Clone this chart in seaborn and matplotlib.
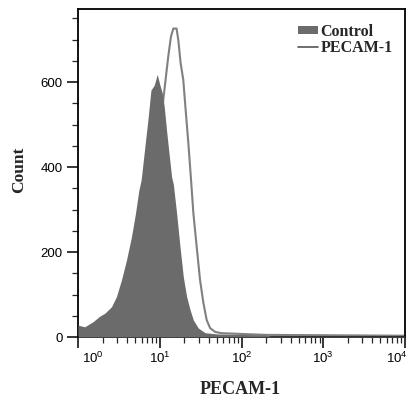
import numpy as np
import pandas as pd
import matplotlib
matplotlib.use("Agg")
import matplotlib.pyplot as plt
import seaborn as sns
from matplotlib.ticker import LogLocator, MultipleLocator, FixedLocator
from matplotlib.patches import Patch
from matplotlib.lines import Line2D
from matplotlib.transforms import ScaledTranslation

# ---- data (log10 of fluorescence, counts) ----
control_log = [0.000, 0.082, 0.184, 0.266, 0.328, 0.409, 0.470, 0.531, 0.593, 0.654,
               0.703, 0.745, 0.772, 0.818, 0.859, 0.892, 0.933, 0.969, 1.002, 1.031,
               1.055, 1.083, 1.113, 1.145, 1.166, 1.206, 1.248, 1.288, 1.329, 1.371,
               1.411, 1.472, 1.555, 1.718, 2.29, 2.36, 4.0]
control_cnt = [28, 24, 36, 49, 56, 71, 95, 134, 181, 236,
               291, 346, 369, 448, 518, 581, 593, 618, 593, 574,
               542, 487, 433, 377, 360, 292, 212, 142, 95, 64,
               40, 21, 10, 7, 5, 2, 2]

pecam_log = [0.0, 0.3, 0.5, 0.7, 0.85, 0.95, 1.0, 1.043, 1.071, 1.104, 1.137, 1.166,
             1.206, 1.227, 1.255, 1.288, 1.317, 1.350, 1.383, 1.411, 1.452, 1.493,
             1.534, 1.574, 1.616, 1.677, 1.755, 2.29, 4.0]
pecam_cnt = [10, 15, 30, 80, 220, 380, 470, 558, 605, 660, 707, 726,
             726, 699, 645, 605, 534, 456, 369, 292, 212, 134,
             80, 40, 21, 12, 9, 5, 3]

series_names = ["Control", "PECAM-1"]
y_ticks = [0, 200, 400, 600]
x_ticks = [1, 10, 100, 1000, 10000]

ctrl = pd.DataFrame({"x": 10 ** np.array(control_log), "count": control_cnt})
pec = pd.DataFrame({"x": 10 ** np.array(pecam_log), "count": pecam_cnt})

sns.set_style("ticks")
plt.rcParams["font.family"] = ["Liberation Sans", "DejaVu Sans"]
plt.rcParams["mathtext.fontset"] = "custom"
plt.rcParams["mathtext.rm"] = "Liberation Sans"
plt.rcParams["mathtext.it"] = "Liberation Sans"

fig = plt.figure(figsize=(4.08, 3.99), dpi=100)
ax = fig.add_axes([78 / 408, 1 - 337 / 399, (405 - 78) / 408, (337 - 9) / 399])

sns.lineplot(data=pec, x="x", y="count", ax=ax, color="#808080", lw=1.5, zorder=2)
ax.fill_between(ctrl["x"], 0, ctrl["count"], color="#6b6b6b", lw=0, zorder=3)

ax.set_xscale("log")
ax.set_xlim(1, 1e4)
ax.set_ylim(0, 772)

for s in ax.spines.values():
    s.set_color("black")
    s.set_linewidth(1.3)

ax.yaxis.set_major_locator(FixedLocator(y_ticks))
ax.yaxis.set_minor_locator(MultipleLocator(50))
ax.xaxis.set_major_locator(FixedLocator(x_ticks))
ax.xaxis.set_minor_locator(LogLocator(base=10, subs=np.arange(2, 10), numticks=20))
ax.tick_params(axis="both", which="major", length=8, width=1.1, direction="out",
               labelsize=9.5, colors="black")
ax.tick_params(axis="both", which="minor", length=4, width=0.9, direction="out")
ax.tick_params(axis="x", which="major", pad=2)
ax.tick_params(axis="y", which="major", pad=3)

fig.canvas.draw()
for lab in ax.get_xticklabels() + ax.get_yticklabels():
    lab.set_family(["Liberation Sans", "DejaVu Sans"])
xl = ax.get_xticklabels()
xl[0].set_horizontalalignment("left")
xl[0].set_transform(xl[0].get_transform() + ScaledTranslation(4 / 100, 0, fig.dpi_scale_trans))
xl[-1].set_horizontalalignment("right")
xl[-1].set_transform(xl[-1].get_transform() + ScaledTranslation(3 / 100, 0, fig.dpi_scale_trans))

ax.set_xlabel("PECAM-1", family=["Liberation Serif"], fontweight="bold", fontsize=13)
ax.set_ylabel("Count", family=["Liberation Serif"], fontweight="bold", fontsize=12.5)
ax.xaxis.set_label_coords(0.495, -0.135)
ax.yaxis.set_label_coords(-0.155, 0.509)

handles = [Patch(facecolor="#6b6b6b", edgecolor="none"),
           Line2D([0], [0], color="#555555", lw=1.2)]
leg = ax.legend(handles, series_names, loc="upper right", frameon=False,
                bbox_to_anchor=(0.963, 0.955), handlelength=1.25, handleheight=0.3,
                handletextpad=0.15, labelspacing=0.0, borderaxespad=0.0, borderpad=0.0,
                prop={"family": "Liberation Serif", "weight": "bold", "size": 11.5})

fig.savefig("out.png", dpi=100)
